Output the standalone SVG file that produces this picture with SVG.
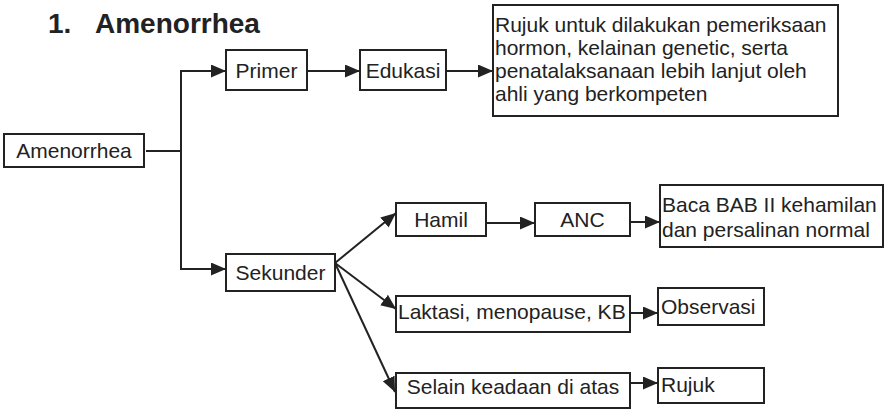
<svg xmlns="http://www.w3.org/2000/svg" width="891" height="409" viewBox="0 0 891 409">
  <style>
    .box { fill: #ffffff; stroke: #222222; stroke-width: 2; }
    .lbl { font-family: "Liberation Sans", Arial, sans-serif; font-size: 21px; fill: #222222; }
    .mid { text-anchor: middle; }
    .title { font-family: "Liberation Sans", Arial, sans-serif; font-size: 28px; font-weight: bold; fill: #222222; }
    .wire { fill: none; stroke: #222222; stroke-width: 2; }
    .arrow { fill: none; stroke: #222222; stroke-width: 2; marker-end: url(#head); }
  </style>
  <defs>
    <marker id="head" markerUnits="userSpaceOnUse" markerWidth="16" markerHeight="14" refX="15" refY="6.5" orient="auto">
      <path d="M0,0 L15,6.5 L0,13 Z" fill="#222222"/>
    </marker>
  </defs>

  <rect width="891" height="409" fill="#ffffff"/>

  <text class="title" y="33"><tspan x="48">1.</tspan><tspan x="95">Amenorrhea</tspan></text>

  <g id="connectors">
    <line class="wire" x1="146" y1="151" x2="181" y2="151"/>
    <line class="wire" x1="181" y1="70" x2="181" y2="270"/>
    <line class="arrow" x1="180" y1="71" x2="226" y2="71"/>
    <line class="arrow" x1="180" y1="269" x2="226" y2="269"/>
    <line class="arrow" x1="307" y1="71" x2="360" y2="71"/>
    <line class="arrow" x1="446" y1="71" x2="493" y2="71"/>
    <line class="arrow" x1="335" y1="263" x2="396" y2="213"/>
    <line class="arrow" x1="335" y1="263" x2="396" y2="309"/>
    <line class="arrow" x1="335" y1="263" x2="395" y2="392"/>
    <line class="arrow" x1="486" y1="223" x2="535" y2="223"/>
    <line class="arrow" x1="630" y1="222" x2="660" y2="222"/>
    <line class="arrow" x1="630" y1="313" x2="658" y2="313"/>
    <line class="arrow" x1="630" y1="383" x2="658" y2="383"/>
  </g>

  <g id="amenorrhea">
    <rect class="box" x="4" y="134" width="140" height="33"/>
    <text class="lbl mid" x="74" y="158">Amenorrhea</text>
  </g>

  <g id="primer">
    <rect class="box" x="226" y="50" width="81" height="40"/>
    <text class="lbl mid" x="266.5" y="78">Primer</text>
  </g>

  <g id="edukasi">
    <rect class="box" x="360" y="50" width="86" height="40"/>
    <text class="lbl mid" x="403" y="78">Edukasi</text>
  </g>

  <g id="rujuk-hormon">
    <rect class="box" x="493" y="5" width="345" height="111"/>
    <text class="lbl" x="495" y="32">Rujuk untuk dilakukan pemeriksaan</text>
    <text class="lbl" x="495" y="55">hormon, kelainan genetic, serta</text>
    <text class="lbl" x="495" y="78">penatalaksanaan lebih lanjut oleh</text>
    <text class="lbl" x="495" y="101">ahli yang berkompeten</text>
  </g>

  <g id="sekunder">
    <rect class="box" x="226" y="254" width="109" height="37"/>
    <text class="lbl mid" x="280.5" y="280">Sekunder</text>
  </g>

  <g id="hamil">
    <rect class="box" x="396" y="203" width="90" height="33"/>
    <text class="lbl mid" x="441" y="227">Hamil</text>
  </g>

  <g id="anc">
    <rect class="box" x="535" y="203" width="95" height="33"/>
    <text class="lbl mid" x="582.5" y="227">ANC</text>
  </g>

  <g id="baca-bab">
    <rect class="box" x="660" y="185" width="223" height="62"/>
    <text class="lbl" x="662" y="212">Baca BAB II kehamilan</text>
    <text class="lbl" x="662" y="237">dan persalinan normal</text>
  </g>

  <g id="laktasi">
    <rect class="box" x="396" y="296" width="234" height="36"/>
    <text class="lbl" x="398" y="319">Laktasi, menopause, KB</text>
  </g>

  <g id="observasi">
    <rect class="box" x="658" y="288" width="106" height="37"/>
    <text class="lbl" x="661" y="314">Observasi</text>
  </g>

  <g id="selain">
    <rect class="box" x="396" y="373" width="234" height="35"/>
    <text class="lbl mid" x="513" y="394">Selain keadaan di atas</text>
  </g>

  <g id="rujuk">
    <rect class="box" x="658" y="368" width="106" height="35"/>
    <text class="lbl" x="661" y="392">Rujuk</text>
  </g>
</svg>
